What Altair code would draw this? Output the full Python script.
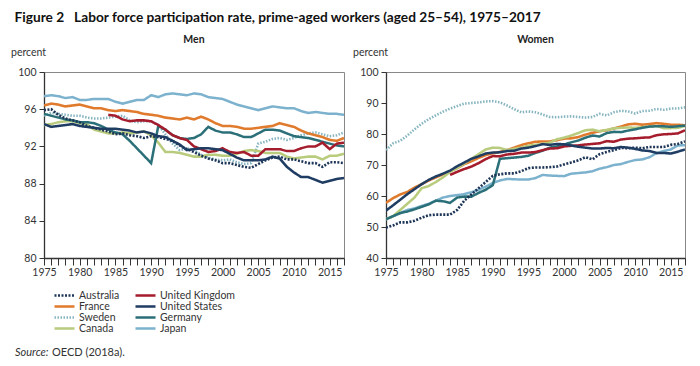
import altair as alt
import pandas as pd

years = list(range(1975, 2018))

countries_legend = ["Australia", "France", "Sweden", "Canada",
                    "United Kingdom", "United States", "Germany", "Japan"]
colors = ["#1d3557", "#e07b2e", "#86b5c0", "#b9cc7e",
          "#a51d2d", "#1f3d63", "#2b6f78", "#7cb2cd"]
dashes = [[2, 1.5], [1, 0], [1.5, 1.5], [1, 0], [1, 0], [1, 0], [1, 0], [1, 0]]
widths = [2.6, 2.5, 2.0, 2.5, 2.5, 3.6, 1.4, 2.4]
draw_order = ["Japan", "Sweden", "France", "Canada", "Germany", "Australia",
              "United Kingdom", "United States"]

men = {
    "Japan": [97.4, 97.5, 97.4, 97.2, 97.3, 97.0, 97.0, 97.1, 97.1, 97.1, 96.8, 96.6, 96.8, 97.0, 97.0,
              97.5, 97.3, 97.6, 97.7, 97.6, 97.5, 97.7, 97.6, 97.3, 97.2, 97.1, 96.8, 96.5, 96.3, 96.1,
              95.9, 96.1, 96.3, 96.2, 96.1, 96.1, 95.8, 95.6, 95.7, 95.6, 95.5, 95.5, 95.4],
    "France": [96.4, 96.6, 96.5, 96.3, 96.4, 96.5, 96.3, 96.1, 96.1, 95.9, 95.8, 95.9, 95.8, 95.7, 95.5,
               95.4, 95.3, 95.1, 95.0, 94.9, 95.1, 94.9, 95.2, 94.9, 94.5, 94.2, 94.2, 94.1, 93.9, 93.9,
               94.0, 94.1, 94.2, 94.5, 94.3, 94.1, 93.7, 93.4, 93.2, 93.0, 92.7, 92.6, 92.9],
    "Australia": [95.9, 96.0, 95.4, 95.0, 94.8, 94.6, 94.2, 94.0, 93.8, 93.6, 93.3, 93.4, 93.2, 93.1, 92.9,
                  93.1, 93.0, 92.8, 92.6, 92.1, 91.7, 91.4, 91.0, 90.7, 90.5, 90.2, 90.2, 90.0, 89.8, 89.7,
                  90.1, 90.5, 90.8, 90.9, 90.6, 90.6, 90.4, 90.2, 90.2, 89.8, 90.3, 90.3, 90.2],
    "United States": [94.4, 94.1, 94.2, 94.3, 94.4, 94.2, 94.1, 94.0, 93.9, 93.9, 93.9, 93.8, 93.7, 93.5, 93.6,
                      93.4, 93.1, 93.0, 92.6, 92.2, 91.6, 91.7, 91.8, 91.8, 91.7, 91.6, 91.2, 90.8, 90.5, 90.5,
                      90.5, 90.6, 90.9, 90.7, 89.8, 89.2, 88.7, 88.7, 88.4, 88.1, 88.3, 88.5, 88.6],
    "United Kingdom": [None] * 9 + [95.4, 95.3, 94.9, 94.7, 94.8, 94.8, 94.7, 94.3, 93.8, 93.2, 92.9,
                                    92.7, 92.0, 91.7, 91.4, 91.5, 91.8, 91.4, 91.3, 91.4, 91.0, 91.0, 91.7,
                                    91.7, 91.7, 91.5, 91.5, 91.8, 92.0, 92.0, 92.4, 91.7, 92.3, 92.4],
    "Germany": [95.5, 95.3, 95.1, 94.9, 94.8, 94.6, 94.6, 94.5, 94.2, 93.8, 93.5, 93.3, 92.6, 91.8, 91.0,
                90.2, 94.2, 93.8, 93.2, 92.9, 92.8, 92.9, 93.3, 94.1, 93.7, 93.5, 93.5, 93.3, 93.0, 93.0,
                93.4, 93.8, 93.8, 93.7, 93.4, 93.1, 93.0, 92.9, 92.7, 92.5, 92.3, 92.1, 92.0],
    "Sweden": [95.3, 95.6, 95.5, 95.4, 95.3, 95.3, 95.1, 95.0, 95.0, 95.1, 95.2, 95.3, 94.8, 94.6, 94.7,
               94.7, 94.3, 93.3, 92.3, 91.6, 91.8, 91.6, 91.1, 90.8, 90.6, 90.5, 90.6, 90.3, 90.1, 90.2,
               92.3, 92.5, 92.8, 92.9, 92.7, 92.9, 93.2, 93.4, 93.5, 93.3, 93.1, 93.2, 93.5],
    "Canada": [94.3, 94.4, 94.6, 94.7, 94.7, 94.5, 94.4, 93.8, 93.6, 93.4, 93.4, 93.5, 93.4, 93.5, 93.6,
               93.2, 92.4, 91.4, 91.4, 91.3, 91.1, 90.9, 90.9, 91.1, 91.1, 91.0, 91.0, 91.2, 91.5, 91.6,
               91.5, 91.3, 91.3, 91.3, 90.9, 90.7, 90.8, 90.9, 90.9, 90.6, 91.0, 91.0, 91.2],
}

women = {
    "Sweden": [74.8, 77.0, 77.8, 79.5, 81.5, 83.3, 84.8, 86.0, 87.2, 88.2, 89.0, 89.8, 90.0, 90.2, 90.5,
               90.6, 90.2, 89.2, 88.0, 87.0, 87.3, 87.0, 86.3, 85.5, 85.4, 85.6, 85.7, 85.5, 85.3, 85.5,
               86.5, 86.0, 87.0, 87.5, 87.3, 86.6, 87.4, 87.5, 88.1, 87.8, 88.2, 88.2, 88.6],
    "France": [57.8, 59.3, 60.5, 61.3, 62.7, 63.8, 65.0, 66.0, 67.0, 68.0, 69.0, 70.3, 71.2, 72.3, 73.2,
               73.8, 74.2, 74.8, 75.6, 76.4, 77.0, 77.5, 77.6, 77.6, 78.0, 78.5, 78.6, 79.0, 79.8, 80.4,
               80.9, 81.2, 81.8, 82.4, 83.1, 83.3, 83.0, 83.2, 83.5, 83.3, 83.0, 83.0, 82.8],
    "United States": [55.3, 57.0, 58.8, 60.6, 62.2, 63.8, 65.2, 66.3, 67.2, 68.2, 69.6, 70.8, 72.0, 72.8, 73.7,
                      74.0, 74.1, 74.5, 74.6, 75.3, 75.6, 76.1, 76.7, 76.5, 76.8, 76.7, 76.3, 75.9, 75.6, 75.3,
                      75.3, 75.5, 75.4, 75.8, 75.6, 75.2, 74.7, 74.5, 73.9, 73.9, 73.7, 74.3, 75.0],
    "United Kingdom": [None] * 9 + [66.8, 67.8, 68.7, 69.5, 70.6, 71.9, 72.9, 72.8, 73.4, 73.6, 74.0,
                                    74.0, 74.2, 74.8, 75.3, 75.4, 76.0, 76.2, 76.3, 76.6, 76.8, 77.0, 77.7,
                                    77.5, 78.2, 78.5, 78.6, 78.8, 78.9, 79.6, 79.9, 80.0, 80.2, 81.2],
    "Canada": [52.5, 53.5, 55.5, 57.5, 59.5, 62.5, 63.2, 64.5, 66.0, 67.8, 69.0, 70.5, 72.0, 73.5, 75.0,
               75.6, 75.5, 74.8, 75.2, 75.6, 76.2, 76.5, 76.8, 77.2, 78.3, 78.8, 79.5, 80.3, 81.2, 81.4,
               80.9, 81.3, 81.8, 82.0, 82.1, 82.0, 82.2, 82.4, 82.6, 81.9, 81.9, 82.0, 82.6],
    "Germany": [52.5, 53.5, 54.5, 55.0, 55.7, 56.5, 57.3, 58.5, 58.3, 57.8, 59.5, 59.8, 59.8, 61.0, 62.0,
                63.5, 72.0, 72.2, 72.4, 72.6, 73.0, 73.9, 74.6, 75.6, 76.0, 76.6, 77.3, 77.9, 78.8, 79.5,
                79.2, 80.3, 80.7, 80.6, 81.1, 81.5, 82.0, 82.4, 82.5, 82.5, 82.3, 82.5, 82.7],
    "Japan": [52.5, 53.5, 54.5, 55.5, 56.0, 56.8, 57.5, 58.5, 59.5, 60.0, 60.3, 60.6, 61.2, 62.0, 63.0,
              64.2, 65.0, 65.5, 65.4, 65.3, 65.3, 65.8, 66.8, 66.6, 66.5, 66.4, 67.2, 67.4, 67.6, 68.0,
              68.8, 69.3, 70.0, 70.3, 71.0, 71.6, 71.8, 72.5, 73.8, 74.5, 75.0, 76.3, 76.4],
    "Australia": [49.8, 50.5, 51.5, 51.5, 52.0, 53.0, 53.8, 54.0, 54.0, 54.0, 55.5, 58.5, 60.5, 62.5, 64.5,
                  66.5, 67.0, 67.3, 67.3, 68.0, 69.0, 69.2, 69.2, 69.3, 69.5, 70.2, 70.8, 71.5, 72.5, 71.8,
                  73.5, 74.2, 74.8, 75.5, 75.4, 75.6, 75.4, 75.8, 75.8, 75.8, 76.5, 76.8, 77.6],
}

men_ticks = [80, 84, 88, 92, 96, 100]
women_ticks = [40, 50, 60, 70, 80, 90, 100]

title_text = "Figure 2\u00a0\u00a0\u00a0Labor force participation rate, prime-aged workers (aged 25\u201354), 1975\u20132017"
source_italic = "Source:"
source_rest = "OECD (2018a)."

FONT = "Lato"


def long_df(d):
    rows = []
    for i, c in enumerate(draw_order):
        for y, v in zip(years, d[c]):
            if v is not None:
                rows.append({"country": c, "year": y, "value": v, "o": i})
    return pd.DataFrame(rows)


def panel(d, ticks, label, W, H, extra=None):
    df = long_df(d)
    x = alt.X("year:Q", title=None,
              scale=alt.Scale(domain=[1975, 2017], nice=False, zero=False),
              axis=alt.Axis(values=years, format="d",
                            labelExpr="datum.value % 5 == 0 ? datum.label : ''",
                            labelOverlap=False, labelBound=False, labelFlush=False,
                            tickSize=7, tickColor="#333", domainColor="#333",
                            domainWidth=1.3, labelPadding=2, grid=False))
    y = alt.Y("value:Q", title=None,
              scale=alt.Scale(domain=[ticks[0], ticks[-1]], nice=False, zero=False),
              axis=alt.Axis(values=ticks, tickSize=5, tickColor="#333",
                            domainColor="#333", domainWidth=1.3, grid=False,
                            labelPadding=3, labelFlush=False))
    lines = alt.Chart(df).mark_line(clip=True, strokeCap="butt").encode(
        x=x, y=y,
        color=alt.Color("country:N",
                        scale=alt.Scale(domain=countries_legend, range=colors),
                        legend=alt.Legend(title=None)),
        strokeDash=alt.StrokeDash("country:N",
                                  scale=alt.Scale(domain=countries_legend, range=dashes),
                                  legend=alt.Legend(title=None)),
        strokeWidth=alt.StrokeWidth("country:N",
                                    scale=alt.Scale(domain=countries_legend, range=widths),
                                    legend=alt.Legend(title=None)),
        detail="o:Q",
    )
    lab = pd.DataFrame({"t": [label]})
    head = alt.Chart(lab).mark_text(font=FONT, fontWeight="bold", fontSize=10.5,
                                    color="#222", align="center").encode(
        text="t:N", x=alt.value(W / 2), y=alt.value(-32))
    pc = pd.DataFrame({"t": ["percent"]})
    pct = alt.Chart(pc).mark_text(font=FONT, fontSize=10.5, color="#333",
                                  align="left").encode(
        text="t:N", x=alt.value(-33), y=alt.value(-19))
    layers = [lines, head, pct]
    if extra:
        layers += extra
    return alt.layer(*layers).properties(width=W, height=H)


src1 = alt.Chart(pd.DataFrame({"t": [source_italic]})).mark_text(
    font=FONT, fontStyle="italic", fontSize=11, color="#333", align="left").encode(
    text="t:N", x=alt.value(-29), y=alt.value(281))
src2 = alt.Chart(pd.DataFrame({"t": [source_rest]})).mark_text(
    font=FONT, fontSize=11, color="#333", align="left").encode(
    text="t:N", x=alt.value(8), y=alt.value(281))

left = panel(men, men_ticks, "Men", 300, 186, extra=[src1, src2])
right = panel(women, women_ticks, "Women", 299, 186)

chart = alt.hconcat(left, right, spacing=7).properties(
    padding={"left": 2, "top": 2, "right": 0, "bottom": 0},
    title=alt.TitleParams(title_text, anchor="start", font=FONT, fontSize=13.7,
                          fontWeight="bold", color="#111", offset=10, dx=4)
).configure_view(stroke="#888", strokeWidth=1).configure_axis(
    labelFont=FONT, labelFontSize=10.5, labelColor="#333"
).configure_legend(
    orient="none", legendX=15, legendY=218, columns=2,
    symbolType="M-2.5,0H2.5", symbolSize=64,
    labelFont=FONT, labelFontSize=10.5, labelColor="#333",
    rowPadding=0, columnPadding=10, labelOffset=9
)

chart.save("out.html", embed_options={"renderer": "svg", "actions": False})
